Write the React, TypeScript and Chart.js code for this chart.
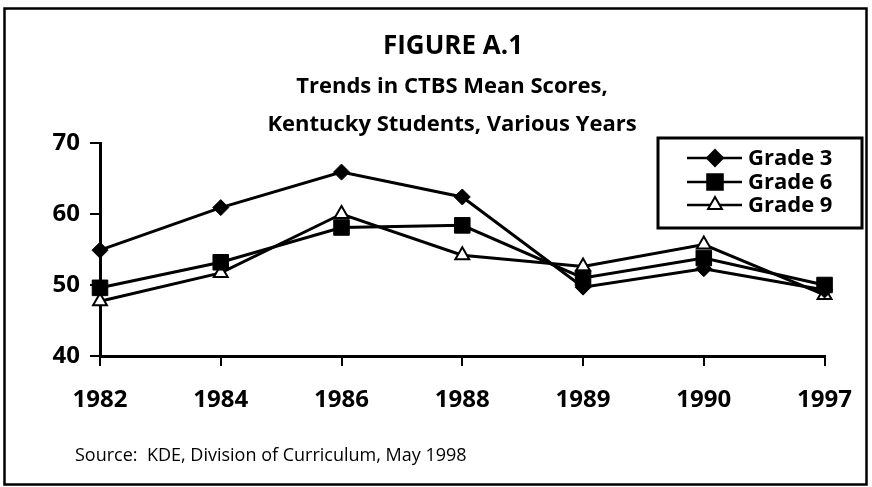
import React, { useEffect, useRef } from "react";
import { Chart, registerables } from "chart.js";

Chart.register(...registerables);

const years = ["1982", "1984", "1986", "1988", "1989", "1990", "1997"];
const grade3 = [54.9, 60.9, 65.9, 62.4, 49.7, 52.3, 49.3];
const grade6 = [49.6, 53.2, 58.1, 58.4, 51.0, 53.8, 50.0];
const grade9 = [47.7, 51.7, 60.0, 54.2, 52.6, 55.7, 48.6];
const seriesNames = ["Grade 3", "Grade 6", "Grade 9"];
const yTicks = [40, 50, 60, 70];
const titleLines = ["FIGURE A.1", "Trends in CTBS Mean Scores,", "Kentucky Students, Various Years"];
const sourceText = "Source:  KDE, Division of Curriculum, May 1998";

const FONT = "'Open Sans', 'DejaVu Sans', sans-serif";

function drawMarker(ctx: CanvasRenderingContext2D, style: string, x: number, y: number, r: number, fill: string) {
  ctx.save();
  ctx.beginPath();
  if (style === "rectRot") {
    ctx.moveTo(x, y - r);
    ctx.lineTo(x + r, y);
    ctx.lineTo(x, y + r);
    ctx.lineTo(x - r, y);
    ctx.closePath();
  } else if (style === "rect") {
    const s = Math.SQRT1_2 * r;
    ctx.rect(x - s, y - s, 2 * s, 2 * s);
  } else {
    const h = r * 1.5;
    const half = (r * Math.sqrt(3)) / 2;
    ctx.moveTo(x, y - r);
    ctx.lineTo(x + half, y - r + h);
    ctx.lineTo(x - half, y - r + h);
    ctx.closePath();
  }
  ctx.fillStyle = fill;
  ctx.fill();
  ctx.lineWidth = 2;
  ctx.strokeStyle = "#000";
  ctx.stroke();
  ctx.restore();
}

const decorPlugin = {
  id: "decor",
  afterDraw(chart: any) {
    const ctx: CanvasRenderingContext2D = chart.ctx;
    ctx.save();
    // outer frame
    ctx.strokeStyle = "#000";
    ctx.lineWidth = 2.5;
    ctx.strokeRect(4.5, 8.5, 862, 476);

    // titles
    ctx.fillStyle = "#000";
    ctx.textAlign = "center";
    ctx.textBaseline = "middle";
    ctx.font = `bold 26px ${FONT}`;
    ctx.fillText(titleLines[0], 453, 47);
    ctx.font = `bold 22px ${FONT}`;
    ctx.fillText(titleLines[1], 452, 87);
    ctx.fillText(titleLines[2], 452, 125);

    // source
    ctx.textAlign = "left";
    ctx.font = `18px ${FONT}`;
    ctx.fillText(sourceText, 75, 456);

    // legend
    ctx.fillStyle = "#fff";
    ctx.fillRect(658, 138, 204, 90);
    ctx.lineWidth = 3;
    ctx.strokeRect(658, 138, 204, 90);
    const rowsY = [158, 182, 205];
    chart.data.datasets.forEach((ds: any, i: number) => {
      const y = rowsY[i];
      ctx.beginPath();
      ctx.moveTo(687, y);
      ctx.lineTo(742, y);
      ctx.lineWidth = 2.5;
      ctx.strokeStyle = "#000";
      ctx.stroke();
      drawMarker(ctx, ds.pointStyle, 715, y, ds.pointRadius, ds.pointBackgroundColor);
      ctx.fillStyle = "#000";
      ctx.textAlign = "left";
      ctx.textBaseline = "middle";
      ctx.font = `bold 22px ${FONT}`;
      ctx.fillText(ds.label, 748, y + 1);
    });
    ctx.restore();
  },
};

export default function App() {
  const ref = useRef<HTMLCanvasElement | null>(null);
  useEffect(() => {
    if (!ref.current) return;
    const chart = new Chart(ref.current, {
      type: "line",
      data: {
        labels: years,
        datasets: [
          {
            label: seriesNames[0],
            data: grade3,
            borderColor: "#000",
            borderWidth: 3,
            pointStyle: "rectRot",
            pointRadius: 8,
            pointBackgroundColor: "#000",
            pointBorderColor: "#000",
            pointBorderWidth: 1,
          },
          {
            label: seriesNames[1],
            data: grade6,
            borderColor: "#000",
            borderWidth: 3,
            pointStyle: "rect",
            pointRadius: 11,
            pointBackgroundColor: "#000",
            pointBorderColor: "#000",
            pointBorderWidth: 1,
          },
          {
            label: seriesNames[2],
            data: grade9,
            borderColor: "#000",
            borderWidth: 3,
            pointStyle: "triangle",
            pointRadius: 8,
            pointBackgroundColor: "#fff",
            pointBorderColor: "#000",
            pointBorderWidth: 2,
          },
        ],
      },
      options: {
        responsive: false,
        animation: false,
        layout: { padding: { top: 143, right: 38, left: 0, bottom: 0 } },
        plugins: { legend: { display: false }, title: { display: false }, tooltip: { enabled: false } },
        scales: {
          x: {
            offset: false,
            afterFit: (s: any) => {
              s.height = 131;
            },
            grid: { drawOnChartArea: false, drawTicks: true, tickLength: 10, color: "#000", lineWidth: 2 },
            border: { display: true, color: "#000", width: 3 },
            ticks: { color: "#000", padding: 20, font: { family: FONT, size: 24, weight: "bold" }, maxRotation: 0 },
          },
          y: {
            min: 40,
            max: 70,
            afterFit: (s: any) => {
              s.width = 100;
            },
            afterBuildTicks: (s: any) => {
              s.ticks = yTicks.map((v) => ({ value: v }));
            },
            grid: { drawOnChartArea: false, drawTicks: true, tickLength: 10, color: "#000", lineWidth: 2 },
            border: { display: true, color: "#000", width: 3 },
            ticks: { color: "#000", padding: 10, font: { family: FONT, size: 24, weight: "bold" } },
          },
        },
      },
      plugins: [decorPlugin],
    });
    return () => chart.destroy();
  }, []);
  return (
    <div style={{ position: "absolute", left: 0, top: 0, width: 872, height: 487, background: "#fff" }}>
      <canvas ref={ref} width={872} height={487} style={{ display: "block" }} />
    </div>
  );
}
